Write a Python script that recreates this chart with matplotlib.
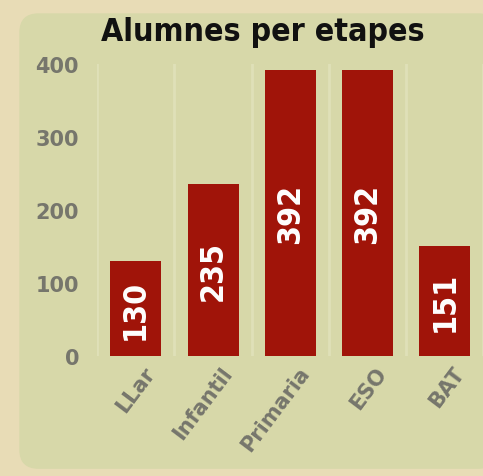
import numpy as np
import matplotlib.pyplot as plt
from matplotlib.patches import FancyBboxPatch

etapes = ['LLar', 'Infantil', 'Primaria', 'ESO', 'BAT']
alumnes = [130, 235, 392, 392, 151]
yticks = [0, 100, 200, 300, 400]

fig = plt.figure(figsize=(4.83, 4.77), dpi=100)
fig.patch.set_facecolor('#e8dcb6')

# rounded inner panel
panel = FancyBboxPatch((0.04, 0.015), 0.99, 0.955, boxstyle='round,pad=0,rounding_size=0.04',
                       transform=fig.transFigure, facecolor='#d7d8a9', edgecolor='none', zorder=-10)
fig.patches.append(panel)

ax = fig.add_axes([0.201, 0.2516, 0.80, 0.612])
ax.set_facecolor('none')
x = np.arange(len(etapes))
bars = ax.bar(x, alumnes, width=0.66, color='#a01409', zorder=3)

for xi, v in zip(x, alumnes):
    ax.text(xi, v / 2, str(v), rotation=90, ha='center', va='center',
            color='white', fontsize=23, fontweight='bold', fontstretch='condensed', zorder=4)

# faint vertical separators
for b in np.arange(-0.5, len(etapes), 1.0):
    ax.axvline(b, color='#dfe0b8', lw=2, zorder=1)

ax.set_xlim(-0.5, len(etapes) - 0.5)
ax.set_ylim(0, 400)
ax.set_yticks(yticks)
ax.set_yticklabels([str(t) for t in yticks])
# labels sit a bit right of bar centre, like the original
ax.set_xticks(x + 0.3)
ax.set_xticklabels(etapes, rotation=53, ha='right', va='top')
ax.tick_params(axis='both', length=0, colors='#76766c')
ax.tick_params(axis='y', pad=13, labelsize=15)
ax.tick_params(axis='x', pad=5, labelsize=15)
for lab in ax.get_xticklabels() + ax.get_yticklabels():
    lab.set_fontweight('bold')
for s in ax.spines.values():
    s.set_visible(False)

fig.text(0.545, 0.931, 'Alumnes per etapes', ha='center', va='center',
         fontsize=23, fontweight='bold', color='#111111', family='DejaVu Sans',
         fontstretch='condensed')

fig.savefig('out.png', dpi=100, facecolor=fig.get_facecolor())
